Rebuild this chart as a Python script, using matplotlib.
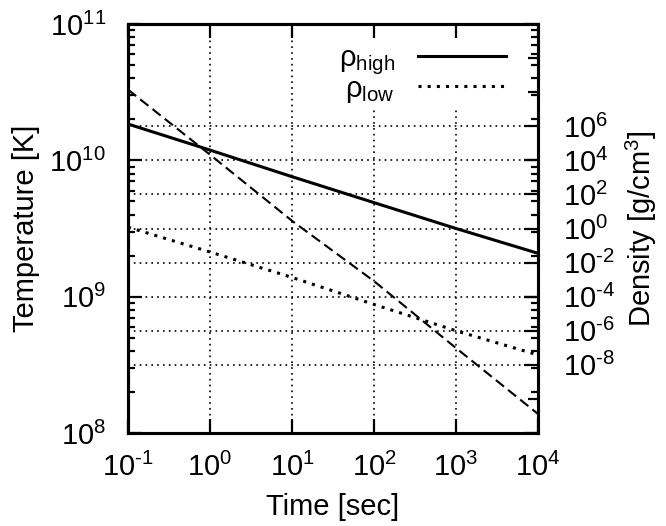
import matplotlib
matplotlib.use("Agg")
import matplotlib.pyplot as plt
from matplotlib.ticker import FixedLocator, FixedFormatter, LogLocator, NullFormatter

plt.rcParams["font.family"] = ["Liberation Sans", "DejaVu Sans"]
plt.rcParams["mathtext.fontset"] = "custom"
plt.rcParams["mathtext.rm"] = "Liberation Sans"
plt.rcParams["mathtext.it"] = "Liberation Sans:italic"

# data
time_sec = [0.1, 1, 10, 100, 1000, 10000]
temperature = [3.3e10, 1.1e10, 3.6e9, 1.3e9, 4.2e8, 1.38e8]
rho_high = [1.35e6, 4.0e4, 1.1e3, 33, 1.0, 0.035]
rho_low = [1.2, 4.2e-2, 1.35e-3, 3.5e-5, 1.0e-6, 3.8e-8]

x_ticks = [0.1, 1, 10, 100, 1000, 10000]
x_labels = ["-1", "0", "1", "2", "3", "4"]
t_ticks = [1e8, 1e9, 1e10, 1e11]
t_labels = ["8", "9", "10", "11"]
rho_ticks = [1e6, 1e4, 1e2, 1e0, 1e-2, 1e-4, 1e-6, 1e-8]
rho_labels = ["6", "4", "2", "0", "-2", "-4", "-6", "-8"]

FS = 21
W, H = 666, 526
fig = plt.figure(figsize=(W / 100, H / 100), dpi=100)
ax = fig.add_axes([128 / W, 1 - 433 / H, 410 / W, 409 / H])
ax2 = ax.twinx()

def pow10(s):
    # plain hyphen for the minus, like the original
    s = s.replace("-", "\u2010")
    return r"$\mathregular{10^{" + s + "}}$"

# left axis: temperature
ax.set_xscale("log")
ax.set_yscale("log")
ax.set_xlim(0.1, 1e4)
ax.set_ylim(1e8, 1e11)
ax.xaxis.set_major_locator(FixedLocator(x_ticks))
ax.xaxis.set_major_formatter(FixedFormatter([pow10(s) for s in x_labels]))
ax.xaxis.set_minor_locator(LogLocator(base=10, subs=[2, 5, 8]))
ax.xaxis.set_minor_formatter(NullFormatter())
ax.yaxis.set_major_locator(FixedLocator(t_ticks))
ax.yaxis.set_major_formatter(FixedFormatter([pow10(s) for s in t_labels]))
ax.yaxis.set_minor_locator(LogLocator(base=10, subs=range(2, 10)))
ax.yaxis.set_minor_formatter(NullFormatter())
ax.tick_params(which="both", direction="in", top=True, right=True, width=1.6, labelsize=FS)
ax.tick_params(which="major", length=10)
ax.tick_params(which="minor", length=5)
ax.tick_params(axis="y", pad=16)
ax.tick_params(axis="x", pad=14)

ax.plot(time_sec, temperature, color="black", lw=1.5, linestyle=(0, (5, 2.5)))
ax.grid(axis="x", which="major", color="black", lw=1.2, linestyle=(0, (1, 2.5)))

# right axis: density
ax2.set_yscale("log")
ax2.set_ylim(1e-12, 1e12)
ax2.yaxis.set_major_locator(FixedLocator(rho_ticks))
ax2.yaxis.set_major_formatter(FixedFormatter([pow10(s) for s in rho_labels]))
ax2.yaxis.set_minor_locator(FixedLocator([1e-10, 1e8, 1e10]))
ax2.yaxis.set_minor_formatter(NullFormatter())
ax2.tick_params(which="both", direction="in", width=1.6, labelsize=FS, pad=18)
ax2.tick_params(which="major", length=10)
ax2.tick_params(which="minor", length=7)
for v in rho_ticks:
    ax2.axhline(v, color="black", lw=1.2, linestyle=(0, (1, 2.5)), zorder=0.5)

ax2.plot(time_sec, rho_high, color="black", lw=2.2, label=r"ρ$_{\mathregular{high}}$")
ax2.plot(time_sec, rho_low, color="black", lw=2.2, linestyle=(0, (1, 2)),
         label=r"ρ$_{\mathregular{low}}$")

for a in (ax, ax2):
    for sp in a.spines.values():
        sp.set_linewidth(2.2)

ax.set_xlabel("Time [sec]", fontsize=FS, labelpad=8)
ax.set_ylabel("Temperature [K]", fontsize=FS, labelpad=7)
ax2.set_ylabel(r"Density [g/cm$^{\mathregular{3}}$]", fontsize=FS, labelpad=6)

ax2.legend(loc="upper right", bbox_to_anchor=(0.935, 0.965), frameon=True,
           facecolor="white", edgecolor="none", framealpha=1, fancybox=False,
           markerfirst=False, fontsize=FS, handlelength=3.0, handletextpad=0.8,
           labelspacing=-0.08, borderpad=0.2, borderaxespad=0)

fig.savefig("out.png", dpi=100)
